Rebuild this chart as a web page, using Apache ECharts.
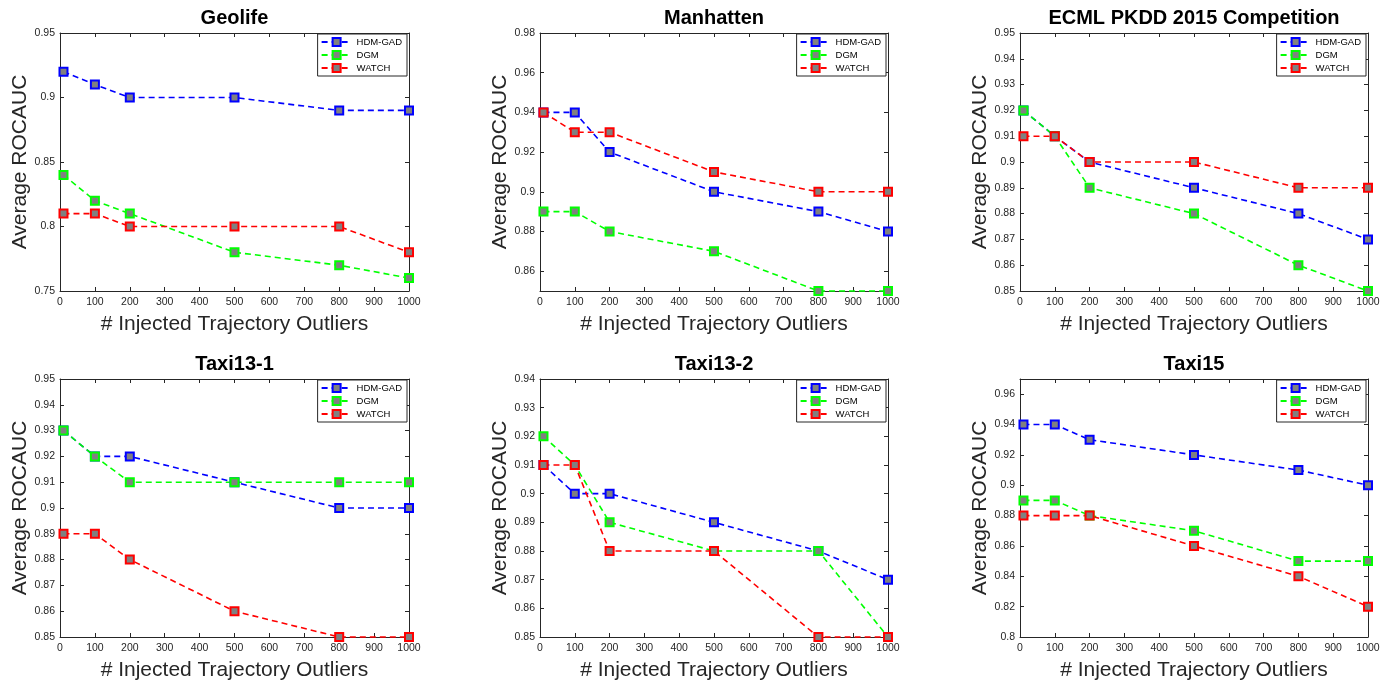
<!DOCTYPE html>
<html>
<head>
<meta charset="utf-8">
<script src="https://cdn.jsdelivr.net/npm/echarts@6/dist/echarts.min.js"></script>
<style>
html,body{margin:0;padding:0;background:#fff;}
#chart{width:1393px;height:683px;}
</style>
</head>
<body>
<div id="chart"></div>
<script>
// ---- data ----
const xValues = [10, 100, 200, 500, 800, 1000];
const xTicks = [0, 100, 200, 300, 400, 500, 600, 700, 800, 900, 1000];
const seriesNames = ['HDM-GAD', 'DGM', 'WATCH'];
const titles = ['Geolife', 'Manhatten', 'ECML PKDD 2015 Competition', 'Taxi13-1', 'Taxi13-2', 'Taxi15'];

const geolifeHDM   = [0.92, 0.91, 0.90, 0.90, 0.89, 0.89];
const geolifeDGM   = [0.84, 0.82, 0.81, 0.78, 0.77, 0.76];
const geolifeWATCH = [0.81, 0.81, 0.80, 0.80, 0.80, 0.78];
const geolifeYTicks = [0.75, 0.8, 0.85, 0.9, 0.95];

const manhattenHDM   = [0.94, 0.94, 0.92, 0.90, 0.89, 0.88];
const manhattenDGM   = [0.89, 0.89, 0.88, 0.87, 0.85, 0.85];
const manhattenWATCH = [0.94, 0.93, 0.93, 0.91, 0.90, 0.90];
const manhattenYTicks = [0.86, 0.88, 0.9, 0.92, 0.94, 0.96, 0.98];

const ecmlHDM   = [0.92, 0.91, 0.90, 0.89, 0.88, 0.87];
const ecmlDGM   = [0.92, 0.91, 0.89, 0.88, 0.86, 0.85];
const ecmlWATCH = [0.91, 0.91, 0.90, 0.90, 0.89, 0.89];
const ecmlYTicks = [0.85, 0.86, 0.87, 0.88, 0.89, 0.9, 0.91, 0.92, 0.93, 0.94, 0.95];

const taxi131HDM   = [0.93, 0.92, 0.92, 0.91, 0.90, 0.90];
const taxi131DGM   = [0.93, 0.92, 0.91, 0.91, 0.91, 0.91];
const taxi131WATCH = [0.89, 0.89, 0.88, 0.86, 0.85, 0.85];
const taxi131YTicks = [0.85, 0.86, 0.87, 0.88, 0.89, 0.9, 0.91, 0.92, 0.93, 0.94, 0.95];

const taxi132HDM   = [0.91, 0.90, 0.90, 0.89, 0.88, 0.87];
const taxi132DGM   = [0.92, 0.91, 0.89, 0.88, 0.88, 0.85];
const taxi132WATCH = [0.91, 0.91, 0.88, 0.88, 0.85, 0.85];
const taxi132YTicks = [0.85, 0.86, 0.87, 0.88, 0.89, 0.9, 0.91, 0.92, 0.93, 0.94];

const taxi15HDM   = [0.94, 0.94, 0.93, 0.92, 0.91, 0.90];
const taxi15DGM   = [0.89, 0.89, 0.88, 0.87, 0.85, 0.85];
const taxi15WATCH = [0.88, 0.88, 0.88, 0.86, 0.84, 0.82];
const taxi15YTicks = [0.8, 0.82, 0.84, 0.86, 0.88, 0.9, 0.92, 0.94, 0.96];

const yMins = [0.75, 0.85, 0.85, 0.85, 0.85, 0.8];
const yMaxs = [0.95, 0.98, 0.95, 0.95, 0.94, 0.97];

const panelSeries = [
  [geolifeHDM, geolifeDGM, geolifeWATCH],
  [manhattenHDM, manhattenDGM, manhattenWATCH],
  [ecmlHDM, ecmlDGM, ecmlWATCH],
  [taxi131HDM, taxi131DGM, taxi131WATCH],
  [taxi132HDM, taxi132DGM, taxi132WATCH],
  [taxi15HDM, taxi15DGM, taxi15WATCH]
];
const panelYTicks = [geolifeYTicks, manhattenYTicks, ecmlYTicks, taxi131YTicks, taxi132YTicks, taxi15YTicks];

// ---- layout / style ----
const colors = ['#0000ff', '#00ff00', '#ff0000'];
const FONT = '"Liberation Sans", Arial, Helvetica, sans-serif';
const AX = '#262626';
const cols = [{left: 60, width: 349}, {left: 540, width: 348}, {left: 1020, width: 348}];
const rows = [{top: 33, height: 258}, {top: 379, height: 258}];
const W = 1393;

const option = {
  animation: false,
  backgroundColor: '#fff',
  title: [], grid: [], xAxis: [], yAxis: [], legend: [], series: []
};

for (let i = 0; i < 6; i++) {
  const c = cols[i % 3], r = rows[Math.floor(i / 3)];
  option.grid.push({left: c.left, top: r.top, width: c.width, height: r.height,
    containLabel: false, outerBoundsMode: 'none', show: false});
  option.title.push({
    text: titles[i], left: c.left + c.width / 2, top: r.top - 25, textAlign: 'center', padding: 0,
    textStyle: {fontFamily: FONT, fontSize: 20, fontWeight: 'bold', color: '#000'}
  });
  const tickStyle = {color: AX, width: 1};
  // bottom x
  option.xAxis.push({
    type: 'value', gridIndex: i, position: 'bottom', min: 0, max: 1000,
    axisLine: {show: true, onZero: false, lineStyle: tickStyle},
    axisTick: {show: true, inside: true, length: 4, customValues: xTicks, lineStyle: tickStyle},
    axisLabel: {show: true, customValues: xTicks, margin: 6, fontSize: 10.5, fontFamily: FONT, color: AX,
      formatter: v => String(v)},
    splitLine: {show: false},
    name: '# Injected Trajectory Outliers', nameLocation: 'middle', nameGap: 23,
    nameTextStyle: {fontFamily: FONT, fontSize: 21, color: AX}
  });
  // top x (frame)
  option.xAxis.push({
    type: 'value', gridIndex: i, position: 'top', min: 0, max: 1000,
    axisLine: {show: true, onZero: false, lineStyle: tickStyle},
    axisTick: {show: true, inside: true, length: 4, customValues: xTicks, lineStyle: tickStyle},
    axisLabel: {show: false}, splitLine: {show: false}
  });
  // left y
  option.yAxis.push({
    type: 'value', gridIndex: i, position: 'left', min: yMins[i], max: yMaxs[i],
    axisLine: {show: true, onZero: false, lineStyle: tickStyle},
    axisTick: {show: true, inside: true, length: 4, customValues: panelYTicks[i], lineStyle: tickStyle},
    axisLabel: {show: true, customValues: panelYTicks[i], margin: 5, fontSize: 10.5, fontFamily: FONT, color: AX,
      formatter: v => String(+v.toFixed(4))},
    splitLine: {show: false},
    name: 'Average ROCAUC', nameLocation: 'middle', nameGap: 29,
    nameTextStyle: {fontFamily: FONT, fontSize: 21, color: AX}
  });
  // right y (frame)
  option.yAxis.push({
    type: 'value', gridIndex: i, position: 'right', min: yMins[i], max: yMaxs[i],
    axisLine: {show: true, onZero: false, lineStyle: tickStyle},
    axisTick: {show: true, inside: true, length: 4, customValues: panelYTicks[i], lineStyle: tickStyle},
    axisLabel: {show: false}, splitLine: {show: false}
  });
  option.legend.push({
    orient: 'vertical', right: W - (c.left + c.width) + 2, top: r.top + 1,
    itemWidth: 30, itemHeight: 10, itemGap: 3, padding: [3, 5, 3, 3],
    borderColor: AX, borderWidth: 1, borderRadius: 0, backgroundColor: '#fff',
    selectedMode: false,
    textStyle: {fontFamily: FONT, fontSize: 9.5, color: '#000'},
    data: seriesNames
  });
  for (let s = 0; s < 3; s++) {
    option.series.push({
      type: 'line', name: seriesNames[s], xAxisIndex: i * 2, yAxisIndex: i * 2,
      data: xValues.map((x, j) => [x, panelSeries[i][s][j]]),
      symbol: 'rect', symbolSize: 8, showAllSymbol: true,
      itemStyle: {color: '#808080', borderColor: colors[s], borderWidth: 2},
      lineStyle: {color: colors[s], width: 1.6, type: [6, 4]},
      emphasis: {disabled: true}, silent: true, clip: false
    });
  }
}

const chart = echarts.init(document.getElementById('chart'), null, {renderer: 'canvas'});
chart.setOption(option);
</script>
</body>
</html>
